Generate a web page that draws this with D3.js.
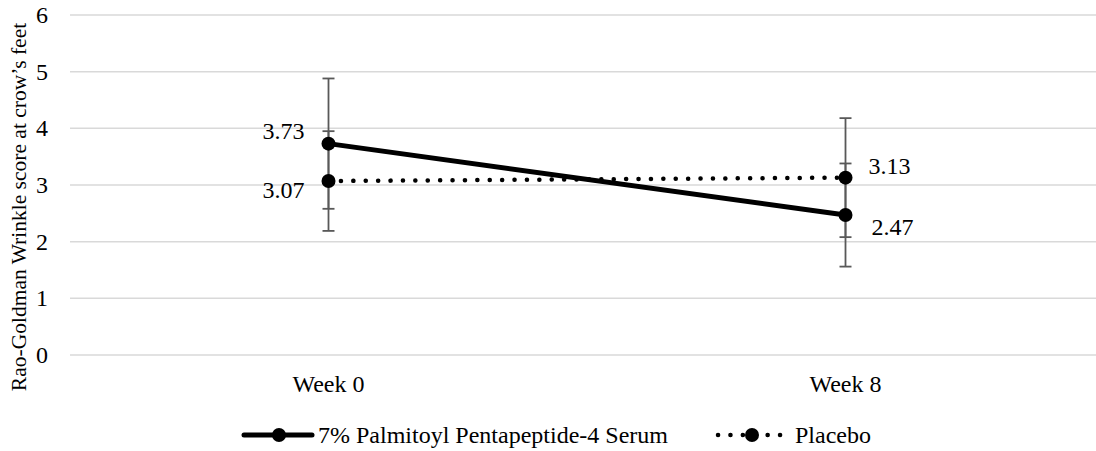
<!DOCTYPE html>
<html>
<head>
<meta charset="utf-8">
<script src="https://cdn.jsdelivr.net/npm/d3@7"></script>
<style>
  body { margin: 0; background: #fff; }
  #chart text { font-family: 'Liberation Serif', 'Times New Roman', Tinos, serif; }
</style>
</head>
<body>
<svg id="chart" width="1096" height="451"></svg>
<script>
const weeks = ["Week 0", "Week 8"];
const serumMeans = [3.73, 2.47];
const serumErr = [1.15, 0.91];
const placeboMeans = [3.07, 3.13];
const placeboErr = [0.88, 1.05];
const yTicks = [0, 1, 2, 3, 4, 5, 6];

const serif = "'Liberation Serif', 'Times New Roman', Tinos, serif";
const fs = "24px";

const svg = d3.select("#chart");

const x = d3.scalePoint().domain(weeks).range([70, 1104]).padding(0.5);
const y = d3.scaleLinear().domain([0, 6]).range([355, 15]);

function addText(sel) {
  return sel.append("text")
    .style("font-family", serif)
    .style("font-size", fs);
}

// gridlines
svg.append("g")
  .selectAll("line")
  .data(yTicks)
  .join("line")
  .attr("x1", 70)
  .attr("x2", 1104)
  .attr("y1", d => y(d))
  .attr("y2", d => y(d))
  .attr("stroke", "#d9d9d9")
  .attr("stroke-width", 1.5);

// y axis labels
const yg = svg.append("g");
yTicks.forEach(t => {
  addText(yg).attr("x", 48).attr("y", y(t) + 8).attr("text-anchor", "end").text(t);
});

// x axis labels
const xg = svg.append("g");
weeks.forEach(w => {
  addText(xg).attr("x", x(w)).attr("y", 392).attr("text-anchor", "middle").text(w);
});

// y axis title
addText(svg)
  .attr("transform", "translate(26, 207) rotate(-90)")
  .attr("text-anchor", "middle")
  .style("font-size", "21.5px")
  .text("Rao-Goldman Wrinkle score at crow\u2019s feet");

// error bars
function errorBars(means, errs) {
  const g = svg.append("g").attr("stroke", "#595959").attr("stroke-width", 1.8);
  weeks.forEach((w, i) => {
    const cx = x(w);
    const lo = y(means[i] - errs[i]);
    const hi = y(means[i] + errs[i]);
    g.append("line").attr("x1", cx).attr("x2", cx).attr("y1", lo).attr("y2", hi);
    g.append("line").attr("x1", cx - 6).attr("x2", cx + 6).attr("y1", lo).attr("y2", lo);
    g.append("line").attr("x1", cx - 6).attr("x2", cx + 6).attr("y1", hi).attr("y2", hi);
  });
}
errorBars(serumMeans, serumErr);
errorBars(placeboMeans, placeboErr);

const line = d3.line()
  .x((d, i) => x(weeks[i]))
  .y(d => y(d));

// placebo (dotted)
svg.append("path")
  .datum(placeboMeans)
  .attr("fill", "none")
  .attr("stroke", "#000")
  .attr("stroke-width", 4.5)
  .attr("stroke-linecap", "round")
  .attr("stroke-dasharray", "0.1 12.3")
  .attr("d", line);

// serum (solid)
svg.append("path")
  .datum(serumMeans)
  .attr("fill", "none")
  .attr("stroke", "#000")
  .attr("stroke-width", 5)
  .attr("d", line);

// markers
[serumMeans, placeboMeans].forEach(vals => {
  svg.append("g")
    .selectAll("circle")
    .data(vals)
    .join("circle")
    .attr("cx", (d, i) => x(weeks[i]))
    .attr("cy", d => y(d))
    .attr("r", 7)
    .attr("fill", "#000");
});

// data labels
const fmt = d3.format(".2f");
function label(px, py, anchor, v) {
  addText(svg).attr("x", px).attr("y", py).attr("text-anchor", anchor).text(fmt(v));
}
label(x(weeks[0]) - 24, y(serumMeans[0]) - 5, "end", serumMeans[0]);
label(x(weeks[0]) - 24, y(placeboMeans[0]) + 17, "end", placeboMeans[0]);
label(x(weeks[1]) + 23, y(placeboMeans[1]) - 4, "start", placeboMeans[1]);
label(x(weeks[1]) + 26, y(serumMeans[1]) + 20, "start", serumMeans[1]);

// legend
const legend = svg.append("g");
legend.append("line").attr("x1", 244).attr("x2", 312).attr("y1", 435).attr("y2", 435)
  .attr("stroke", "#000").attr("stroke-width", 5).attr("stroke-linecap", "round");
legend.append("circle").attr("cx", 279).attr("cy", 435).attr("r", 7).attr("fill", "#000");
addText(legend).attr("x", 318).attr("y", 443).text("7% Palmitoyl Pentapeptide-4 Serum");

legend.append("line").attr("x1", 718).attr("x2", 782).attr("y1", 435).attr("y2", 435)
  .attr("stroke", "#000").attr("stroke-width", 4.5).attr("stroke-linecap", "round")
  .attr("stroke-dasharray", "0.1 12.3");
legend.append("circle").attr("cx", 752).attr("cy", 435).attr("r", 7).attr("fill", "#000");
addText(legend).attr("x", 795).attr("y", 443).text("Placebo");
</script>
</body>
</html>
